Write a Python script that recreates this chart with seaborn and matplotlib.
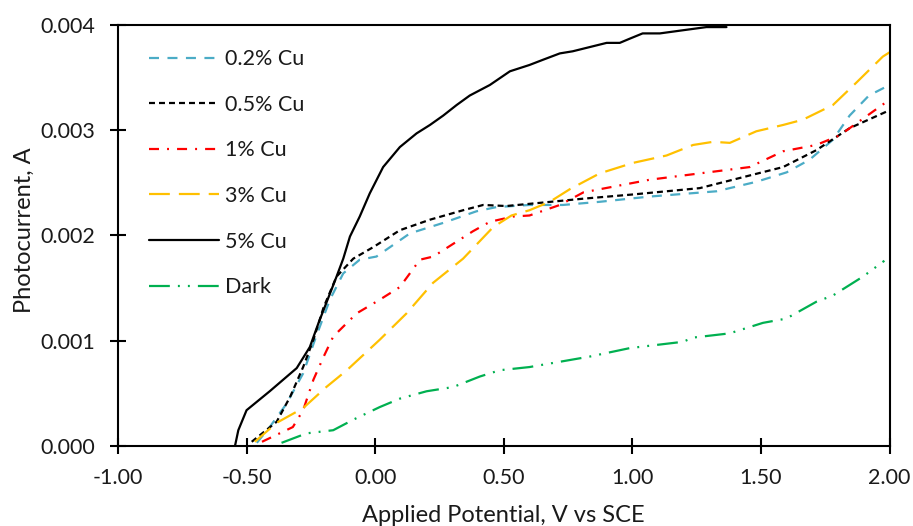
import matplotlib
matplotlib.use("Agg")
import matplotlib.pyplot as plt
from matplotlib.ticker import FormatStrFormatter, MultipleLocator
import seaborn as sns
import pandas as pd

# Photocurrent vs applied potential (current in mA, converted to A below)
v_02 = [-0.46, -0.41, -0.345, -0.28, -0.234, -0.176, -0.124, -0.06, 0.005, 0.135,
        0.265, 0.394, 0.472, 0.60, 0.73, 0.873, 1.068, 1.327, 1.482, 1.60, 1.689,
        1.78, 1.845, 1.92, 2.0]
i_02 = [0.03, 0.18, 0.40, 0.69, 1.01, 1.39, 1.64, 1.77, 1.80, 2.02,
        2.12, 2.23, 2.27, 2.29, 2.29, 2.32, 2.37, 2.42, 2.51, 2.60, 2.72,
        2.91, 3.14, 3.33, 3.43]

v_05 = [-0.48, -0.383, -0.33, -0.28, -0.24, -0.20, -0.15, -0.085, -0.007, 0.096,
        0.213, 0.342, 0.42, 0.51, 0.64, 0.81, 1.003, 1.262, 1.456, 1.586, 1.715,
        1.845, 2.0]
i_05 = [0.04, 0.23, 0.47, 0.75, 1.01, 1.32, 1.61, 1.78, 1.89, 2.05,
        2.15, 2.24, 2.29, 2.28, 2.31, 2.35, 2.39, 2.45, 2.57, 2.65, 2.81,
        3.02, 3.19]

v_1 = [-0.44, -0.32, -0.28, -0.24, -0.20, -0.163, -0.072, 0.018, 0.096, 0.135,
       0.174, 0.226, 0.38, 0.446, 0.536, 0.60, 0.718, 0.81, 1.068, 1.262, 1.456,
       1.586, 1.715, 1.805, 1.897, 2.0]
i_1 = [0.04, 0.18, 0.34, 0.63, 0.85, 1.04, 1.26, 1.39, 1.51, 1.64,
       1.77, 1.80, 2.04, 2.13, 2.18, 2.19, 2.29, 2.41, 2.53, 2.59, 2.65,
       2.80, 2.86, 2.95, 3.11, 3.29]

v_3 = [-0.468, -0.383, -0.28, -0.19, -0.11, 0.018, 0.122, 0.225, 0.342, 0.459,
       0.53, 0.60, 0.679, 0.757, 0.873, 1.003, 1.133, 1.236, 1.314, 1.379, 1.482,
       1.586, 1.663, 1.78, 1.87, 1.974, 2.0]
i_3 = [0.04, 0.22, 0.36, 0.56, 0.72, 1.01, 1.26, 1.55, 1.78, 2.08,
       2.19, 2.24, 2.32, 2.44, 2.59, 2.69, 2.76, 2.86, 2.89, 2.88, 2.99,
       3.05, 3.10, 3.24, 3.45, 3.70, 3.74]

v_5 = [-0.545, -0.532, -0.50, -0.41, -0.305, -0.254, -0.22, -0.15, -0.124, -0.098,
       -0.06, -0.021, 0.031, 0.096, 0.161, 0.213, 0.265, 0.317, 0.368, 0.446, 0.524,
       0.60, 0.653, 0.718, 0.768, 0.90, 0.951, 0.99, 1.04, 1.107, 1.197, 1.288, 1.366]
i_5 = [0.0, 0.15, 0.34, 0.52, 0.74, 0.94, 1.17, 1.61, 1.78, 1.99,
       2.18, 2.40, 2.65, 2.84, 2.97, 3.05, 3.14, 3.24, 3.33, 3.43, 3.56,
       3.62, 3.67, 3.73, 3.75, 3.83, 3.83, 3.87, 3.92, 3.92, 3.95, 3.98, 3.98]

v_dark = [-0.364, -0.267, -0.163, -0.085, 0.018, 0.096, 0.20, 0.303, 0.407, 0.485,
          0.60, 0.835, 0.99, 1.197, 1.236, 1.378, 1.508, 1.598, 1.715, 1.78, 1.897, 1.98]
i_dark = [0.03, 0.12, 0.15, 0.25, 0.37, 0.45, 0.52, 0.56, 0.66, 0.72,
          0.75, 0.85, 0.93, 0.99, 1.03, 1.07, 1.17, 1.21, 1.37, 1.43, 1.61, 1.76]

labels = ["0.2% Cu", "0.5% Cu", "1% Cu", "3% Cu", "5% Cu", "Dark"]
colors = ["#4BACC6", "#000000", "#FF0000", "#FFC000", "#000000", "#00B050"]
styles = [(0, (7.2, 6.1)),
          (0, (4.3, 2.9)),
          (0, (7.2, 5.8, 1.4, 5.8)),
          (0, (15, 6.5)),
          "solid",
          (0, (15, 5.8, 1.4, 5.8, 1.4, 5.8))]
series = [(v_02, i_02), (v_05, i_05), (v_1, i_1), (v_3, i_3), (v_5, i_5), (v_dark, i_dark)]

sns.set_theme(style="white")
plt.rcParams["font.family"] = ["Lato", "DejaVu Sans"]
plt.rcParams["axes.unicode_minus"] = False
plt.rcParams["lines.scale_dashes"] = False
text_color = "#1a1a1a"

fig, ax = plt.subplots(figsize=(9.13, 5.26), dpi=100)
fig.subplots_adjust(left=0.1292, right=0.9743, bottom=0.1521, top=0.9525)

for (v, i_ma), lab, col, ls in zip(series, labels, colors, styles):
    df = pd.DataFrame({"V": v, "I": [val / 1000.0 for val in i_ma]})
    sns.lineplot(data=df, x="V", y="I", ax=ax, color=col, linestyle=ls,
                 linewidth=1.6, label=lab, estimator=None, sort=False)

ax.set_xlim(-1.0, 2.0)
ax.set_ylim(0.0, 0.004)
ax.xaxis.set_major_locator(MultipleLocator(0.5))
ax.yaxis.set_major_locator(MultipleLocator(0.001))
ax.xaxis.set_major_formatter(FormatStrFormatter("%.2f"))
ax.yaxis.set_major_formatter(FormatStrFormatter("%.3f"))

for s in ax.spines.values():
    s.set_visible(True)
    s.set_color("black")
    s.set_linewidth(1.5)

ax.tick_params(axis="both", direction="inout", length=11, width=1.5,
               color="black", labelsize=15.5, labelcolor=text_color)
ax.tick_params(axis="x", pad=10, bottom=True)
ax.tick_params(axis="y", pad=11, left=True)

ax.set_xlabel("Applied Potential, V vs SCE", fontsize=17, color=text_color)
ax.set_ylabel("Photocurrent, A", fontsize=17, color=text_color)
ax.xaxis.set_label_coords(0.5, -0.14)
ax.yaxis.set_label_coords(-0.108, 0.513)

leg = ax.legend(loc="upper left", bbox_to_anchor=(0.029, 0.963), borderaxespad=0,
                frameon=False, fontsize=15.5, handlelength=3.25, handletextpad=0.28,
                labelspacing=1.19)
for t in leg.get_texts():
    t.set_color(text_color)

fig.savefig("out.png", dpi=100)
